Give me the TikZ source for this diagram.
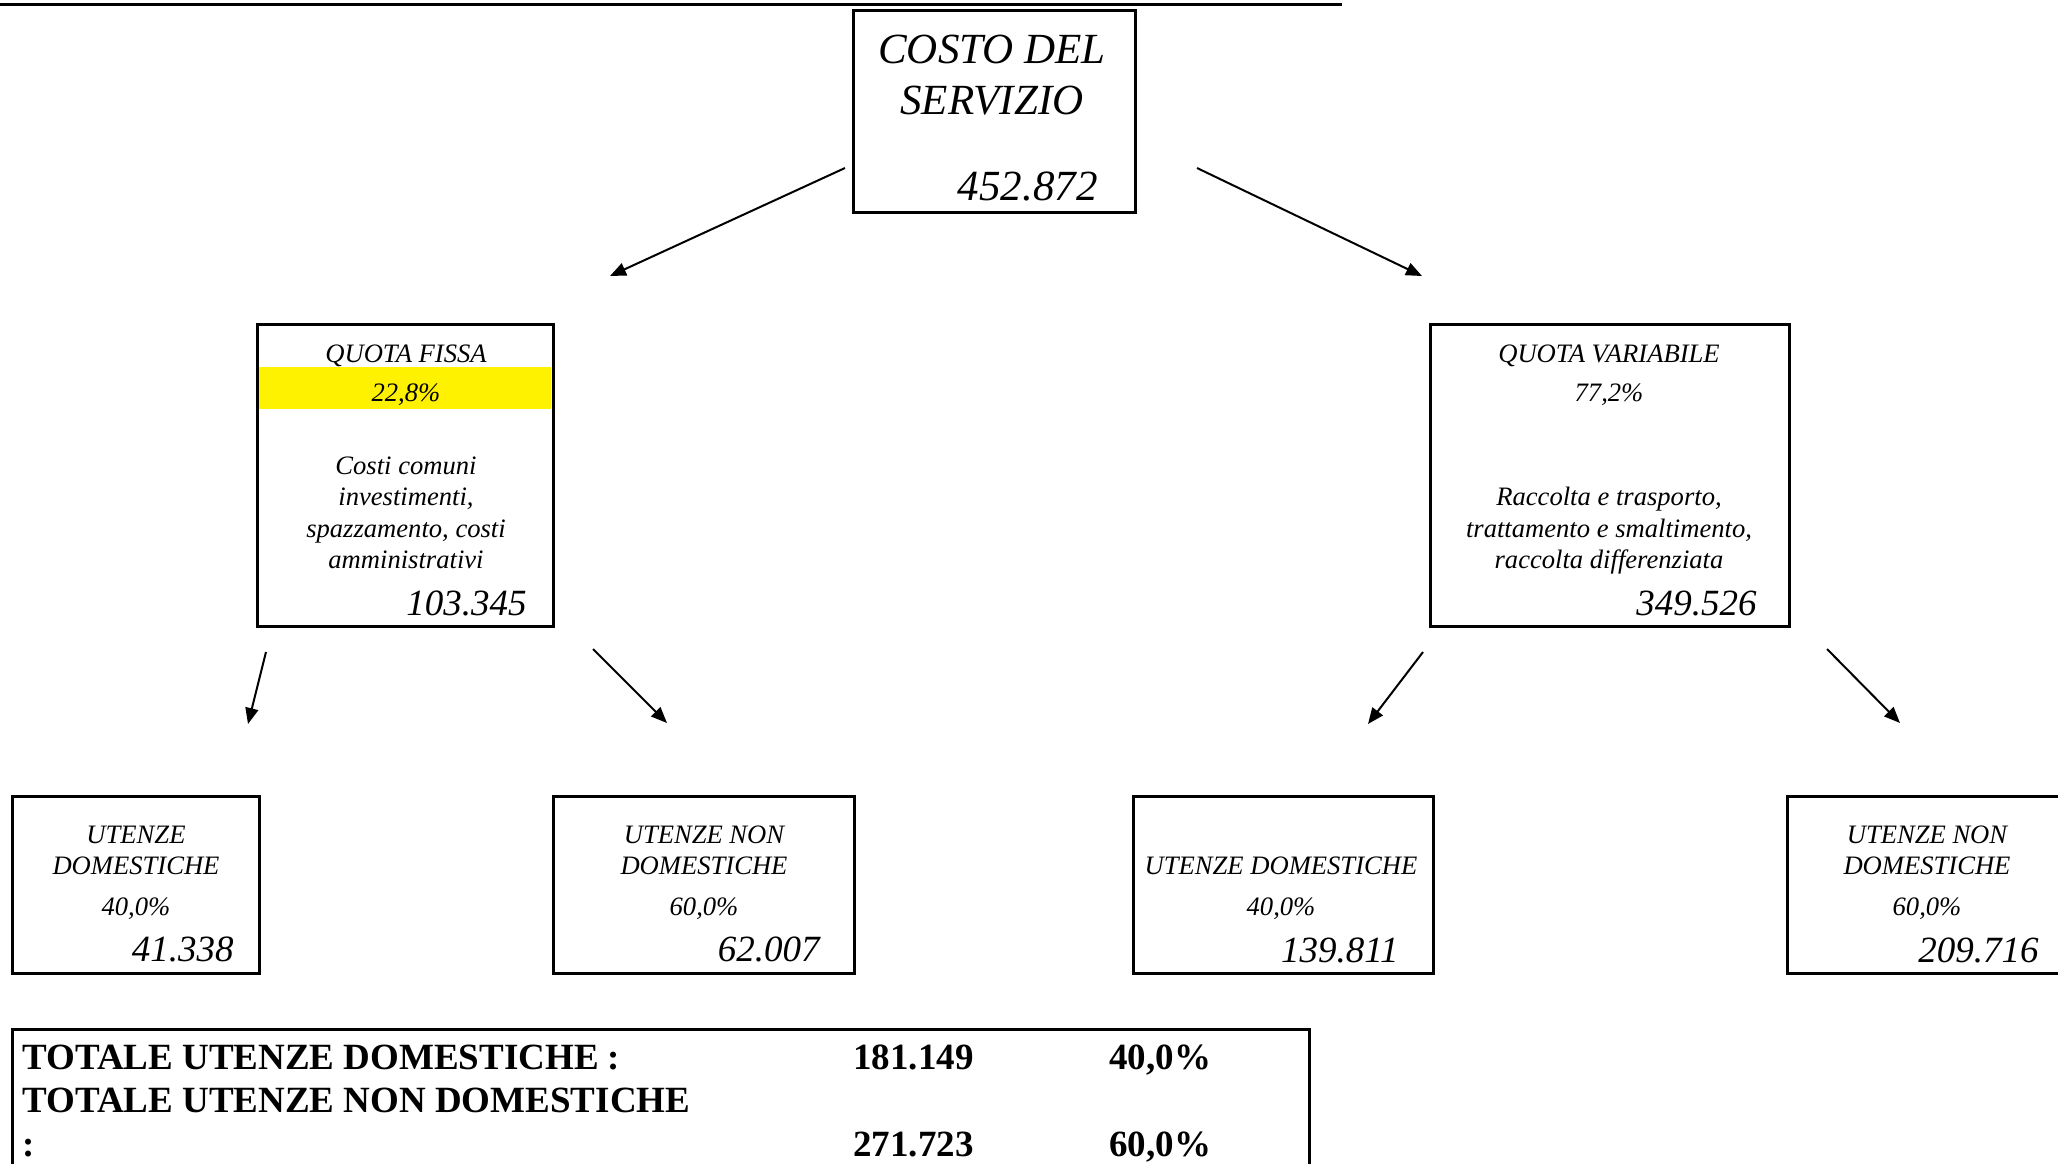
\documentclass[tikz,border=0pt]{standalone}
\usepackage{fontspec}
\setmainfont{Liberation Serif}
\usetikzlibrary{arrows.meta,fit}
\begin{document}
\begin{tikzpicture}[x=0.5pt,y=-0.5pt,
  box/.style={draw, line width=1.5pt, inner sep=0pt},
  big/.style={font=\fontsize{21.5}{25}\selectfont\itshape, inner sep=0pt},
  small/.style={font=\fontsize{13.3}{15.5}\selectfont\itshape, inner sep=0pt},
  num/.style={font=\fontsize{18.5}{22}\selectfont\itshape, inner sep=0pt},
  tabtxt/.style={font=\fontsize{18.5}{22}\selectfont\bfseries, inner sep=0pt, anchor=base west},
  arr/.style={line width=1pt, -{Triangle[length=8pt,width=6.5pt]}}]
\useasboundingbox (0,0) rectangle (2058,1163);
\fill[white] (0,0) rectangle (2058,1163);
% top rule
\coordinate (rule1) at (0,4);
\coordinate (rule2) at (1342,4);
\draw[line width=1.5pt] (rule1) -- (rule2);
% yellow band
\fill[yellow] (259,367) rectangle (551,409);
% boxes
\node[box, fit={(853,10) (1135,212)}] (main) {};
\node[box, fit={(257,324) (553,626)}] (qf) {};
\node[box, fit={(1430,324) (1789,626)}] (qv) {};
\node[box, fit={(12,796) (259,973)}] (b1) {};
\node[box, fit={(553,796) (854,973)}] (b2) {};
\node[box, fit={(1133,796) (1433,973)}] (b3) {};
\node[box, fit={(1787,796) (2080,973)}] (b4) {};
\node[box, fit={(12,1029) (1309,1220)}] (tab) {};
% main text
\node[big, anchor=base] (m1) at (992,63) {COSTO DEL};
\node[big, anchor=base] (m2) at (992,114) {SERVIZIO};
\node[big, anchor=base east] (m3) at (1098,200) {452.872};
% quota fissa
\node[small, anchor=base] (qf1) at (406,362) {QUOTA FISSA};
\node[small, anchor=base] (qf2) at (406,401) {22,8\%};
\node[small, anchor=base] (qf3) at (406,474) {Costi comuni};
\node[small, anchor=base] (qf4) at (406,505) {investimenti,};
\node[small, anchor=base] (qf5) at (406,537) {spazzamento, costi};
\node[small, anchor=base] (qf6) at (406,568) {amministrativi};
\node[num, anchor=base east] (qf7) at (527,615) {103.345};
% quota variabile
\node[small, anchor=base] (qv1) at (1609,362) {QUOTA VARIABILE};
\node[small, anchor=base] (qv2) at (1609,401) {77,2\%};
\node[small, anchor=base] (qv3) at (1609,505) {Raccolta e trasporto,};
\node[small, anchor=base] (qv4) at (1609,537) {trattamento e smaltimento,};
\node[small, anchor=base] (qv5) at (1609,568) {raccolta differenziata};
\node[num, anchor=base east] (qv6) at (1757,615) {349.526};
% bottom boxes
\node[small, anchor=base] (b1a) at (136,843) {UTENZE};
\node[small, anchor=base] (b1b) at (136,874) {DOMESTICHE};
\node[small, anchor=base] (b1c) at (136,915) {40,0\%};
\node[num, anchor=base east] (b1d) at (234,961) {41.338};
\node[small, anchor=base] (b2a) at (704,843) {UTENZE NON};
\node[small, anchor=base] (b2b) at (704,874) {DOMESTICHE};
\node[small, anchor=base] (b2c) at (704,915) {60,0\%};
\node[num, anchor=base east] (b2d) at (820,961) {62.007};
\node[small, anchor=base] (b3a) at (1281,874) {UTENZE DOMESTICHE};
\node[small, anchor=base] (b3b) at (1281,915) {40,0\%};
\node[num, anchor=base east] (b3c) at (1399,962) {139.811};
\node[small, anchor=base] (b4a) at (1927,843) {UTENZE NON};
\node[small, anchor=base] (b4b) at (1927,874) {DOMESTICHE};
\node[small, anchor=base] (b4c) at (1927,915) {60,0\%};
\node[num, anchor=base east] (b4d) at (2039,962) {209.716};
% table
\node[tabtxt] (t1) at (22,1069) {TOTALE UTENZE DOMESTICHE :};
\node[tabtxt] (t2) at (22,1112) {TOTALE UTENZE NON DOMESTICHE};
\node[tabtxt] (t3) at (22,1156) {:};
\node[tabtxt] (t4) at (853,1069) {181.149};
\node[tabtxt] (t5) at (1109,1069) {40,0\%};
\node[tabtxt] (t6) at (853,1156) {271.723};
\node[tabtxt] (t7) at (1109,1156) {60,0\%};
% arrows
\coordinate (a1s) at (845,168);  \coordinate (a1e) at (610,276);
\coordinate (a2s) at (1197,168); \coordinate (a2e) at (1422,276);
\coordinate (a3s) at (266,652);  \coordinate (a3e) at (248,724);
\coordinate (a4s) at (593,649);  \coordinate (a4e) at (667,723);
\coordinate (a5s) at (1423,652); \coordinate (a5e) at (1368,724);
\coordinate (a6s) at (1827,649); \coordinate (a6e) at (1900,723);
\draw[arr] (a1s) -- (a1e);
\draw[arr] (a2s) -- (a2e);
\draw[arr] (a3s) -- (a3e);
\draw[arr] (a4s) -- (a4e);
\draw[arr] (a5s) -- (a5e);
\draw[arr] (a6s) -- (a6e);
\end{tikzpicture}
\end{document}
